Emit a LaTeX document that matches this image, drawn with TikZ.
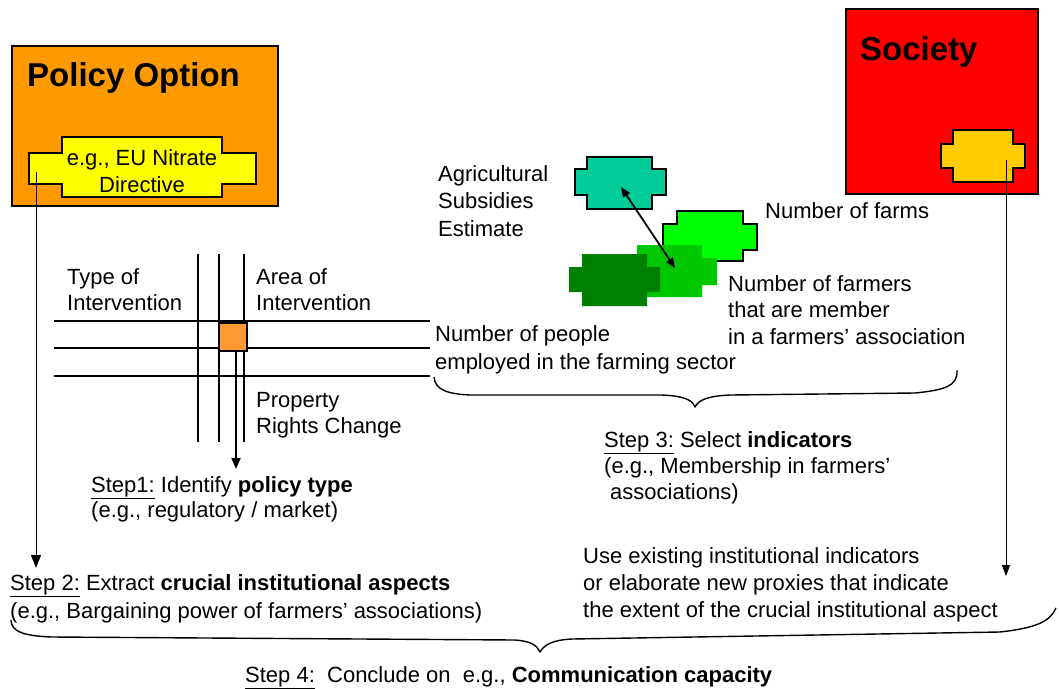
\documentclass[tikz,border=0pt]{standalone}
\usepackage{fontspec}
\setmainfont{Liberation Sans}
\usetikzlibrary{arrows.meta}
\definecolor{polorange}{HTML}{FF9900}
\definecolor{socred}{HTML}{FF0000}
\definecolor{yellowx}{HTML}{FFFF00}
\definecolor{goldx}{HTML}{FFCC00}
\definecolor{tealx}{HTML}{00CC99}
\definecolor{lgreen}{HTML}{00FF00}
\definecolor{mgreen}{HTML}{00C800}
\definecolor{dgreen}{HTML}{008000}
\definecolor{sqorange}{HTML}{FF9933}
% cross-shaped polygon: #1 style, #2 #3 vertical-part x, #4 #5 vertical-part y, #6 #7 horizontal-part x, #8 #9 horizontal-part y
\newcommand{\xcrossshape}[9]{%
  \path[#1] (#2,#4) -- (#3,#4) -- (#3,#8) -- (#7,#8) -- (#7,#9) -- (#3,#9) -- (#3,#5)
    -- (#2,#5) -- (#2,#9) -- (#6,#9) -- (#6,#8) -- (#2,#8) -- cycle;}
\begin{document}
\begin{tikzpicture}[x=1pt,y=-1pt,
  txt/.style={anchor=base west, inner sep=0pt, font=\fontsize{22}{26}\selectfont},
  ctxt/.style={anchor=base, inner sep=0pt, font=\fontsize{22}{26}\selectfont},
  title/.style={anchor=base west, inner sep=0pt, font=\fontsize{33}{38}\selectfont\bfseries},
  bigbox/.style={draw=black, line width=1.5pt, anchor=north west, inner sep=0pt},
  gridline/.style={line width=1.3pt},
  thinarrow/.style={line width=1pt, -{Triangle[length=13pt,width=10pt]}},
  fatarrow/.style={line width=2pt, -{Triangle[length=11pt,width=9pt]}},
  dblarrow/.style={line width=1.8pt, {Triangle[length=10pt,width=8pt]}-{Triangle[length=10pt,width=8pt]}},
  bracepath/.style={line width=1.4pt, line join=round},
  outl/.style={draw=black, line width=1.3pt}]
\useasboundingbox (0,0) rectangle (1059,688);

% ---- Policy Option box
\node[bigbox, fill=polorange, minimum width=266pt, minimum height=160pt] (policy) at (11,45) {};
\node[title] (policyT) at (27,86) {Policy Option};
\xcrossshape{outl, fill=yellowx}{62}{222}{137}{197}{29}{256}{153}{184}
\node[ctxt] (nitrate1) at (142,165) {e.g., EU Nitrate};
\node[ctxt] (nitrate2) at (142,192) {Directive};
\coordinate (pa) at (36,172);

% ---- Society box
\node[bigbox, fill=socred, minimum width=192pt, minimum height=185pt] (society) at (845,8) {};
\node[title] (societyT) at (860,60) {Society};
\xcrossshape{outl, fill=goldx}{953}{1013}{130}{182}{941}{1025}{144}{168}
\coordinate (sa) at (1006,160);

% ---- indicator crosses
\xcrossshape{outl, fill=tealx}{587}{652}{157}{209}{575}{666}{169}{195}
\xcrossshape{outl, fill=lgreen}{677}{743}{211}{261}{663}{757}{224}{250}
\xcrossshape{fill=mgreen}{637}{702}{245}{297}{625}{717}{258}{285}
\xcrossshape{fill=dgreen}{582}{647}{254}{306}{569}{660}{267}{292}
\coordinate (ia) at (621,187);
\coordinate (ib) at (675,268);
\draw[dblarrow] (ia) -- (ib);

\node[txt] (agr1) at (438,181) {Agricultural};
\node[txt] (agr2) at (438,208) {Subsidies};
\node[txt] (agr3) at (438,236) {Estimate};
\node[txt] (farms) at (765,218) {Number of farms};
\node[txt] (mem1) at (728,291) {Number of farmers};
\node[txt] (mem2) at (728,317) {that are member};
\node[txt] (mem3) at (728,344) {in a farmers’ association};
\node[txt] (emp1) at (435,341) {Number of people};
\node[txt] (emp2) at (435,369) {employed in the farming sector};

% ---- policy type grid
\draw[gridline] (54,321) -- (430,321);
\draw[gridline] (54,348) -- (430,348);
\draw[gridline] (54,376) -- (430,376);
\draw[gridline] (198,254) -- (198,442);
\draw[gridline] (219,254) -- (219,442);
\draw[gridline] (244,254) -- (244,442);
\node[draw=black, line width=1.3pt, fill=sqorange, minimum width=28pt, minimum height=28pt, inner sep=0pt] (sq) at (233,337) {};
\node[txt] (type1) at (67,284) {Type of};
\node[txt] (type2) at (67,310) {Intervention};
\node[txt] (area1) at (256,284) {Area of};
\node[txt] (area2) at (256,310) {Intervention};
\node[txt] (prop1) at (256,407) {Property};
\node[txt] (prop2) at (256,433) {Rights Change};

% ---- Step 1
\node[txt] (step1a) at (91,492) {\underline{Step1:} Identify \textbf{policy type}};
\node[txt] (step1b) at (91,517) {(e.g., regulatory / market)};
\coordinate (s1a) at (236,351);
\coordinate (s1b) at (236,469);
\draw[fatarrow] (s1a) -- (s1b);

% ---- Step 3
\node[txt] (step3a) at (604,447) {\underline{Step 3:} Select \textbf{indicators}};
\node[txt] (step3b) at (604,473) {(e.g., Membership in farmers’};
\node[txt] (step3c) at (610,499) {associations)};

% ---- Step 2
\node[txt] (step2a) at (10,590) {\underline{Step 2:} Extract \textbf{crucial institutional aspects}};
\node[txt] (step2b) at (10,618) {(e.g., Bargaining power of farmers’ associations)};
\coordinate (pb) at (36,568);
\draw[thinarrow] (pa) -- (pb);

% ---- proxies text
\node[txt] (use1) at (583,563) {Use existing institutional indicators};
\node[txt] (use2) at (583,590) {or elaborate new proxies that indicate};
\node[txt] (use3) at (583,617) {the extent of the crucial institutional aspect};
\coordinate (sb) at (1006,576);
\draw[line width=0.8pt, -{Triangle[length=11pt,width=8pt]}] (sa) -- (sb);

% ---- braces
\draw[bracepath] (434,377) .. controls (435,390) and (448,394) .. (470,395) -- (662,395)
  .. controls (682,396) and (692,399) .. (695,407)
  .. controls (699,399) and (710,396) .. (730,395) -- (915,393)
  .. controls (945,390) and (958,386) .. (957,370);
\draw[bracepath] (11,620) .. controls (11,632) and (25,636) .. (52,637) -- (515,640)
  .. controls (530,641) and (537,645) .. (540,652)
  .. controls (544,645) and (552,640) .. (572,639) -- (1000,632)
  .. controls (1035,628) and (1050,622) .. (1056,608);

% ---- Step 4
\node[txt] (step4) at (245,682) {\underline{Step 4:}\ \ Conclude on\ \ e.g., \textbf{Communication capacity}};
\end{tikzpicture}
\end{document}
